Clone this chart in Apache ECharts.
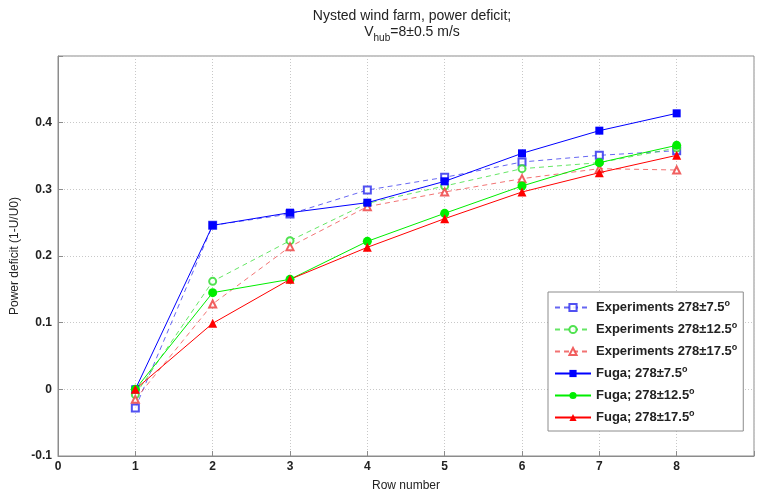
<!DOCTYPE html>
<html>
<head>
<meta charset="utf-8">
<script src="https://cdn.jsdelivr.net/npm/echarts@6/dist/echarts.min.js"></script>
<style>
  html, body { margin: 0; padding: 0; background: #fff; }
  #chart { width: 757px; height: 497px; }
</style>
</head>
<body>
<div id="chart"></div>
<script>
// row numbers along the wind farm
var rows = [1, 2, 3, 4, 5, 6, 7, 8];

// measured power deficit, three sector widths
var exp75 = [-0.028, 0.246, 0.263, 0.299, 0.318, 0.341, 0.351, 0.358];
var exp125 = [-0.008, 0.162, 0.223, 0.279, 0.305, 0.331, 0.340, 0.362];
var exp175 = [-0.015, 0.128, 0.214, 0.274, 0.296, 0.316, 0.331, 0.329];

// Fuga model
var fuga75 = [0.0, 0.246, 0.265, 0.280, 0.312, 0.354, 0.388, 0.414];
var fuga125 = [0.0, 0.145, 0.165, 0.222, 0.264, 0.305, 0.340, 0.366];
var fuga175 = [0.0, 0.099, 0.165, 0.213, 0.256, 0.296, 0.325, 0.351];

var xTicks = [0, 1, 2, 3, 4, 5, 6, 7, 8];
var yTicks = [-0.1, 0, 0.1, 0.2, 0.3, 0.4];

function pairs(vals) {
  return rows.map(function (r, i) { return [r, vals[i]]; });
}

function expSeries(name, vals, color, symbol) {
  return {
    name: name,
    type: 'line',
    data: pairs(vals),
    symbol: symbol,
    symbolSize: 7,
    lineStyle: { color: color, width: 1, type: [5, 4], opacity: 0.75 },
    itemStyle: { color: color, borderWidth: 1, opacity: 0.85 },
    z: 2
  };
}

function fugaSeries(name, vals, color, symbol, size) {
  return {
    name: name,
    type: 'line',
    data: pairs(vals),
    symbol: symbol,
    symbolSize: size,
    lineStyle: { color: color, width: 1 },
    itemStyle: { color: color },
    z: 3
  };
}

var chart = echarts.init(document.getElementById('chart'));

var font = 'Liberation Sans, Arial, sans-serif';

var option = {
  animation: false,
  backgroundColor: '#fff',
  title: {
    text: '{t|Nysted wind farm, power deficit;}\n{t|V}{sub|hub}{t|=8±0.5 m/s}',
    left: 407,
    textAlign: 'center',
    top: 3,
    textStyle: {
      fontWeight: 'normal',
      rich: {
        t: { fontFamily: font, fontSize: 14, fontWeight: 'normal', color: '#222', lineHeight: 16 },
        sub: { fontFamily: font, fontSize: 10, fontWeight: 'normal', color: '#222', lineHeight: 16, padding: [12, 0, 0, 0] }
      }
    }
  },
  grid: {
    left: 58, right: 1, top: 56, bottom: 38,
    show: true, borderColor: '#8c8c8c', borderWidth: 1, backgroundColor: '#fff'
  },
  legend: {
    orient: 'vertical',
    left: 548, top: 292,
    padding: [7, 6, 7, 6],
    itemGap: 7,
    itemWidth: 36,
    itemHeight: 9,
    backgroundColor: '#fff',
    borderColor: '#8c8c8c',
    borderWidth: 1,
    borderRadius: 0,
    formatter: function (name) {
      return name.replace('°', '{sup|o}');
    },
    textStyle: {
      fontFamily: font, fontSize: 13, fontWeight: 'bold', color: '#222',
      rich: { sup: { fontSize: 9, fontWeight: 'bold', color: '#222', padding: [0, 0, 8, 0] } }
    }
  },
  xAxis: {
    type: 'value',
    min: 0, max: 9, interval: 1,
    name: 'Row number',
    nameLocation: 'middle',
    nameGap: 24,
    nameTextStyle: { fontFamily: font, fontSize: 12, color: '#222' },
    axisLine: { onZero: false, lineStyle: { color: '#8c8c8c' } },
    axisTick: { inside: true, length: 5, lineStyle: { color: '#8c8c8c' } },
    axisLabel: {
      fontFamily: font, fontSize: 12, fontWeight: 'bold', color: '#222', margin: 5,
      formatter: function (v) { return xTicks.indexOf(v) >= 0 ? String(v) : ''; }
    },
    splitLine: { show: true, lineStyle: { color: '#c8c8c8', type: [1, 2] } }
  },
  yAxis: {
    type: 'value',
    min: -0.1, max: 0.5, interval: 0.1,
    name: 'Power deficit (1-U/U0)',
    nameLocation: 'middle',
    nameGap: 31,
    nameTextStyle: { fontFamily: font, fontSize: 12, color: '#222' },
    axisLine: { show: true, lineStyle: { color: '#8c8c8c' } },
    axisTick: { show: true, inside: true, length: 5, lineStyle: { color: '#8c8c8c' } },
    axisLabel: {
      fontFamily: font, fontSize: 12, fontWeight: 'bold', color: '#222', margin: 6,
      formatter: function (v) {
        var r = Math.round(v * 10) / 10;
        return yTicks.indexOf(r) >= 0 ? String(r) : '';
      }
    },
    splitLine: { show: true, lineStyle: { color: '#c8c8c8', type: [1, 2] } }
  },
  series: [
    expSeries('Experiments 278±7.5°', exp75, '#3333ee', 'emptyRect'),
    expSeries('Experiments 278±12.5°', exp125, '#33dd33', 'emptyCircle'),
    expSeries('Experiments 278±17.5°', exp175, '#ee4444', 'emptyTriangle'),
    fugaSeries('Fuga; 278±7.5°', fuga75, '#0000ff', 'rect', 8),
    fugaSeries('Fuga; 278±12.5°', fuga125, '#00ee00', 'circle', 9),
    fugaSeries('Fuga; 278±17.5°', fuga175, '#ff0000', 'triangle', 9)
  ]
};

chart.setOption(option);
</script>
</body>
</html>
